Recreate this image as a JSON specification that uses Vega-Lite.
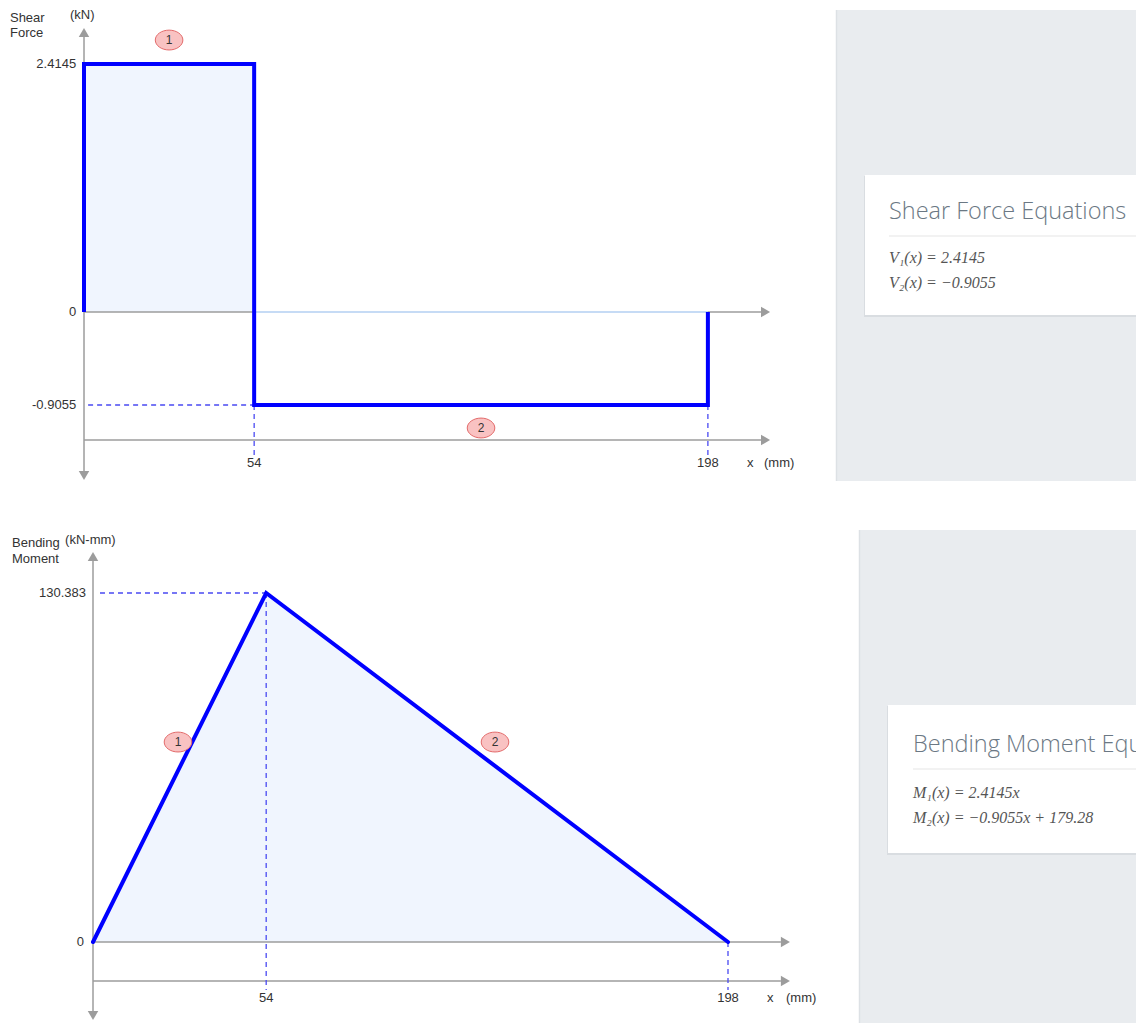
{
  "$schema": "https://vega.github.io/schema/vega-lite/v6.json",
  "padding": 0,
  "background": "white",
  "spacing": 47,
  "config": {"view": {"stroke": null}, "font": "Liberation Sans", "text": {"font": "Liberation Sans"}},
  "vconcat": [
    {
      "spacing": 15,
      "hconcat": [
        {
          "width": 820,
          "height": 481,
          "layer": [
            {
              "data": {"values": [{"x": 0, "v": 2.4145}, {"x": 54, "v": 2.4145}]},
              "mark": {"type": "area", "color": "#f0f5fe"},
              "encoding": {
                "x": {"field": "x", "type": "quantitative", "scale": {"domain": [-26.66, 233.58], "nice": false, "zero": false}, "axis": null},
                "y": {"field": "v", "type": "quantitative", "scale": {"domain": [-1.6456, 3.038], "nice": false, "zero": false}, "axis": null},
                "y2": {"datum": 0}
              }
            },
            {
              "data": {"values": [
                {"x": 0, "x2": 0, "v": 2.70, "v2": -1.57},
                {"x": 0, "x2": 215, "v": 0, "v2": 0},
                {"x": 0, "x2": 215, "v": -1.2463, "v2": -1.2463}
              ]},
              "mark": {"type": "rule", "color": "#9c9c9c", "strokeWidth": 1.5},
              "encoding": {
                "x": {"field": "x", "type": "quantitative"}, "x2": {"field": "x2"},
                "y": {"field": "v", "type": "quantitative"}, "y2": {"field": "v2"}
              }
            },
            {
              "data": {"values": [
                {"x": 0, "v": 2.7215, "dir": "up"},
                {"x": 0, "v": -1.592, "dir": "down"},
                {"x": 216.3, "v": 0, "dir": "right"},
                {"x": 216.3, "v": -1.2463, "dir": "right"}
              ]},
              "mark": {"type": "point", "filled": true, "color": "#9c9c9c", "opacity": 1, "size": 110},
              "encoding": {
                "x": {"field": "x", "type": "quantitative"},
                "y": {"field": "v", "type": "quantitative"},
                "shape": {"field": "dir", "type": "nominal", "scale": {"domain": ["up", "down", "right"], "range": ["triangle-up", "triangle-down", "triangle-right"]}, "legend": null}
              }
            },
            {
              "data": {"values": [{"x": 54, "x2": 198, "v": 0, "v2": 0}]},
              "mark": {"type": "rule", "color": "#c6dbf5", "strokeWidth": 2},
              "encoding": {
                "x": {"field": "x", "type": "quantitative"}, "x2": {"field": "x2"},
                "y": {"field": "v", "type": "quantitative"}, "y2": {"field": "v2"}
              }
            },
            {
              "data": {"values": [
                {"x": 1.3, "x2": 54, "v": -0.9055, "v2": -0.9055},
                {"x": 54, "x2": 54, "v": -0.9055, "v2": -1.392},
                {"x": 198, "x2": 198, "v": -0.9055, "v2": -1.392}
              ]},
              "mark": {"type": "rule", "color": "#4a4af2", "strokeWidth": 1.3, "strokeDash": [5, 4]},
              "encoding": {
                "x": {"field": "x", "type": "quantitative"}, "x2": {"field": "x2"},
                "y": {"field": "v", "type": "quantitative"}, "y2": {"field": "v2"}
              }
            },
            {
              "data": {"values": [
                {"i": 0, "x": 0, "v": 0},
                {"i": 1, "x": 0, "v": 2.4145},
                {"i": 2, "x": 54, "v": 2.4145},
                {"i": 3, "x": 54, "v": -0.9055},
                {"i": 4, "x": 198, "v": -0.9055},
                {"i": 5, "x": 198, "v": 0}
              ]},
              "mark": {"type": "line", "color": "#0000ff", "strokeWidth": 4, "strokeJoin": "miter", "strokeCap": "butt"},
              "encoding": {
                "x": {"field": "x", "type": "quantitative"},
                "y": {"field": "v", "type": "quantitative"},
                "order": {"field": "i", "type": "quantitative"}
              }
            },
            {
              "data": {"values": [
                {"x": -2.5, "v": 2.4145, "t": "2.4145"},
                {"x": -2.5, "v": 0, "t": "0"},
                {"x": -2.5, "v": -0.9055, "t": "-0.9055"}
              ]},
              "mark": {"type": "text", "align": "right", "baseline": "middle", "fontSize": 13, "color": "#333333"},
              "encoding": {
                "x": {"field": "x", "type": "quantitative"},
                "y": {"field": "v", "type": "quantitative"},
                "text": {"field": "t"}
              }
            },
            {
              "data": {"values": [
                {"x": 54, "v": -1.47, "t": "54"},
                {"x": 198, "v": -1.47, "t": "198"}
              ]},
              "mark": {"type": "text", "align": "center", "baseline": "middle", "fontSize": 13, "color": "#333333"},
              "encoding": {
                "x": {"field": "x", "type": "quantitative"},
                "y": {"field": "v", "type": "quantitative"},
                "text": {"field": "t"}
              }
            },
            {
              "data": {"values": [
                {"x": 210.4, "v": -1.47, "t": "x"},
                {"x": 215.8, "v": -1.47, "t": "(mm)"},
                {"x": -23.5, "v": 2.863, "t": "Shear"},
                {"x": -23.5, "v": 2.713, "t": "Force"},
                {"x": -4.44, "v": 2.892, "t": "(kN)"}
              ]},
              "mark": {"type": "text", "align": "left", "baseline": "middle", "fontSize": 13, "color": "#333333"},
              "encoding": {
                "x": {"field": "x", "type": "quantitative"},
                "y": {"field": "v", "type": "quantitative"},
                "text": {"field": "t"}
              }
            },
            {
              "data": {"values": [
                {"x": 27, "v": 2.648, "t": "1"},
                {"x": 126, "v": -1.1295, "t": "2"}
              ]},
              "layer": [
                {
                  "mark": {"type": "point", "filled": true, "shape": "M-1,0A1,0.72,0,1,0,1,0A1,0.72,0,1,0,-1,0Z", "size": 760, "fill": "#f9c2c2", "stroke": "#e36a6a", "strokeWidth": 1, "opacity": 1},
                  "encoding": {
                    "x": {"field": "x", "type": "quantitative"},
                    "y": {"field": "v", "type": "quantitative"}
                  }
                },
                {
                  "mark": {"type": "text", "align": "center", "baseline": "middle", "fontSize": 12, "color": "#333333"},
                  "encoding": {
                    "x": {"field": "x", "type": "quantitative"},
                    "y": {"field": "v", "type": "quantitative"},
                    "text": {"field": "t"}
                  }
                }
              ]
            }
          ]
        },
        {
          "width": 301,
          "height": 481,
          "layer": [
            {
              "data": {"values": [
                {"x": 0, "x2": 301, "y": 10, "y2": 481, "k": "panel"},
                {"x": 28, "x2": 301, "y": 176, "y2": 317, "k": "shadow"},
                {"x": 29, "x2": 301, "y": 175, "y2": 315, "k": "card"}
              ]},
              "mark": {"type": "rect"},
              "encoding": {
                "x": {"field": "x", "type": "quantitative", "scale": {"domain": [0, 301], "nice": false, "zero": false}, "axis": null},
                "x2": {"field": "x2"},
                "y": {"field": "y", "type": "quantitative", "scale": {"domain": [0, 481], "nice": false, "zero": false, "reverse": true}, "axis": null},
                "y2": {"field": "y2"},
                "color": {"field": "k", "type": "nominal", "scale": {"domain": ["panel", "shadow", "card"], "range": ["#e9ecef", "#d9dde1", "#ffffff"]}, "legend": null}
              }
            },
            {
              "data": {"values": [
                {"x": 0.5, "x2": 0.5, "y": 10, "y2": 481, "k": "edge"},
                {"x": 53, "x2": 301, "y": 236, "y2": 236, "k": "sep"}
              ]},
              "mark": {"type": "rule", "strokeWidth": 1.5},
              "encoding": {
                "x": {"field": "x", "type": "quantitative"}, "x2": {"field": "x2"},
                "y": {"field": "y", "type": "quantitative"}, "y2": {"field": "y2"},
                "stroke": {"field": "k", "type": "nominal", "scale": {"domain": ["edge", "sep"], "range": ["#dde1e5", "#eeeeee"]}, "legend": null}
              }
            },
            {
              "data": {"values": [{"x": 53, "y": 212, "t": "Shear Force Equations"}]},
              "mark": {"type": "text", "align": "left", "baseline": "middle", "font": "Open Sans", "fontWeight": 300, "fontSize": 23.5, "color": "#6b7884", "clip": true},
              "encoding": {
                "x": {"field": "x", "type": "quantitative"},
                "y": {"field": "y", "type": "quantitative"},
                "text": {"field": "t"}
              }
            },
            {
              "data": {"values": [
                {"x": 53, "y": 258, "t": "V₁(x) = 2.4145"},
                {"x": 53, "y": 283, "t": "V₂(x) = −0.9055"}
              ]},
              "mark": {"type": "text", "align": "left", "baseline": "middle", "font": "Liberation Serif", "fontStyle": "italic", "fontSize": 16, "color": "#555555"},
              "encoding": {
                "x": {"field": "x", "type": "quantitative"},
                "y": {"field": "y", "type": "quantitative"},
                "text": {"field": "t"}
              }
            }
          ]
        }
      ]
    },
    {
      "spacing": 15,
      "hconcat": [
        {
          "width": 843,
          "height": 493,
          "layer": [
            {
              "data": {"values": [{"x": 0, "m": 0}, {"x": 54, "m": 130.383}, {"x": 198, "m": 0}]},
              "mark": {"type": "area", "color": "#f0f5fe"},
              "encoding": {
                "x": {"field": "x", "type": "quantitative", "scale": {"domain": [-29.0, 233.86], "nice": false, "zero": false}, "axis": null},
                "y": {"field": "m", "type": "quantitative", "scale": {"domain": [-30.26, 153.92], "nice": false, "zero": false}, "axis": null},
                "y2": {"datum": 0}
              }
            },
            {
              "data": {"values": [
                {"x": 0, "x2": 0, "m": 142.5, "m2": -26.0},
                {"x": 0, "x2": 214.5, "m": 0, "m2": 0},
                {"x": 0, "x2": 214.5, "m": -14.57, "m2": -14.57}
              ]},
              "mark": {"type": "rule", "color": "#9c9c9c", "strokeWidth": 1.5},
              "encoding": {
                "x": {"field": "x", "type": "quantitative"}, "x2": {"field": "x2"},
                "y": {"field": "m", "type": "quantitative"}, "y2": {"field": "m2"}
              }
            },
            {
              "data": {"values": [
                {"x": 0, "m": 144.02, "dir": "up"},
                {"x": 0, "m": -27.46, "dir": "down"},
                {"x": 215.9, "m": 0, "dir": "right"},
                {"x": 215.9, "m": -14.57, "dir": "right"}
              ]},
              "mark": {"type": "point", "filled": true, "color": "#9c9c9c", "opacity": 1, "size": 110},
              "encoding": {
                "x": {"field": "x", "type": "quantitative"},
                "y": {"field": "m", "type": "quantitative"},
                "shape": {"field": "dir", "type": "nominal", "scale": {"domain": ["up", "down", "right"], "range": ["triangle-up", "triangle-down", "triangle-right"]}, "legend": null}
              }
            },
            {
              "data": {"values": [
                {"x": 2.18, "x2": 54, "m": 130.383, "m2": 130.383},
                {"x": 54, "x2": 54, "m": 130.383, "m2": -17.93},
                {"x": 198, "x2": 198, "m": 0, "m2": -17.93}
              ]},
              "mark": {"type": "rule", "color": "#4a4af2", "strokeWidth": 1.3, "strokeDash": [5, 4]},
              "encoding": {
                "x": {"field": "x", "type": "quantitative"}, "x2": {"field": "x2"},
                "y": {"field": "m", "type": "quantitative"}, "y2": {"field": "m2"}
              }
            },
            {
              "data": {"values": [
                {"i": 0, "x": 0, "m": 0},
                {"i": 1, "x": 54, "m": 130.383},
                {"i": 2, "x": 198, "m": 0}
              ]},
              "mark": {"type": "line", "color": "#0000ff", "strokeWidth": 4, "strokeJoin": "miter", "strokeCap": "round"},
              "encoding": {
                "x": {"field": "x", "type": "quantitative"},
                "y": {"field": "m", "type": "quantitative"},
                "order": {"field": "i", "type": "quantitative"}
              }
            },
            {
              "data": {"values": [
                {"x": -2.18, "m": 130.383, "t": "130.383"},
                {"x": -2.8, "m": 0, "t": "0"}
              ]},
              "mark": {"type": "text", "align": "right", "baseline": "middle", "fontSize": 13, "color": "#333333"},
              "encoding": {
                "x": {"field": "x", "type": "quantitative"},
                "y": {"field": "m", "type": "quantitative"},
                "text": {"field": "t"}
              }
            },
            {
              "data": {"values": [
                {"x": 54, "m": -20.92, "t": "54"},
                {"x": 198, "m": -20.92, "t": "198"}
              ]},
              "mark": {"type": "text", "align": "center", "baseline": "middle", "fontSize": 13, "color": "#333333"},
              "encoding": {
                "x": {"field": "x", "type": "quantitative"},
                "y": {"field": "m", "type": "quantitative"},
                "text": {"field": "t"}
              }
            },
            {
              "data": {"values": [
                {"x": 210.2, "m": -20.92, "t": "x"},
                {"x": 216.1, "m": -20.92, "t": "(mm)"},
                {"x": -25.26, "m": 149.06, "t": "Bending"},
                {"x": -25.26, "m": 143.09, "t": "Moment"},
                {"x": -8.7, "m": 150.18, "t": "(kN-mm)"}
              ]},
              "mark": {"type": "text", "align": "left", "baseline": "middle", "fontSize": 13, "color": "#333333"},
              "encoding": {
                "x": {"field": "x", "type": "quantitative"},
                "y": {"field": "m", "type": "quantitative"},
                "text": {"field": "t"}
              }
            },
            {
              "data": {"values": [
                {"x": 26.5, "m": 74.7, "t": "1"},
                {"x": 125.35, "m": 74.7, "t": "2"}
              ]},
              "layer": [
                {
                  "mark": {"type": "point", "filled": true, "shape": "M-1,0A1,0.72,0,1,0,1,0A1,0.72,0,1,0,-1,0Z", "size": 760, "fill": "#f9c2c2", "stroke": "#e36a6a", "strokeWidth": 1, "opacity": 1},
                  "encoding": {
                    "x": {"field": "x", "type": "quantitative"},
                    "y": {"field": "m", "type": "quantitative"}
                  }
                },
                {
                  "mark": {"type": "text", "align": "center", "baseline": "middle", "fontSize": 12, "color": "#333333"},
                  "encoding": {
                    "x": {"field": "x", "type": "quantitative"},
                    "y": {"field": "m", "type": "quantitative"},
                    "text": {"field": "t"}
                  }
                }
              ]
            }
          ]
        },
        {
          "width": 278,
          "height": 493,
          "layer": [
            {
              "data": {"values": [
                {"x": 0, "x2": 278, "y": 0, "y2": 493, "k": "panel"},
                {"x": 28, "x2": 278, "y": 176, "y2": 325, "k": "shadow"},
                {"x": 29, "x2": 278, "y": 175, "y2": 323, "k": "card"}
              ]},
              "mark": {"type": "rect"},
              "encoding": {
                "x": {"field": "x", "type": "quantitative", "scale": {"domain": [0, 278], "nice": false, "zero": false}, "axis": null},
                "x2": {"field": "x2"},
                "y": {"field": "y", "type": "quantitative", "scale": {"domain": [0, 493], "nice": false, "zero": false, "reverse": true}, "axis": null},
                "y2": {"field": "y2"},
                "color": {"field": "k", "type": "nominal", "scale": {"domain": ["panel", "shadow", "card"], "range": ["#e9ecef", "#d9dde1", "#ffffff"]}, "legend": null}
              }
            },
            {
              "data": {"values": [
                {"x": 0.5, "x2": 0.5, "y": 0, "y2": 493, "k": "edge"},
                {"x": 54, "x2": 278, "y": 239, "y2": 239, "k": "sep"}
              ]},
              "mark": {"type": "rule", "strokeWidth": 1.5},
              "encoding": {
                "x": {"field": "x", "type": "quantitative"}, "x2": {"field": "x2"},
                "y": {"field": "y", "type": "quantitative"}, "y2": {"field": "y2"},
                "stroke": {"field": "k", "type": "nominal", "scale": {"domain": ["edge", "sep"], "range": ["#dde1e5", "#eeeeee"]}, "legend": null}
              }
            },
            {
              "data": {"values": [{"x": 54, "y": 215, "t": "Bending Moment Equations"}]},
              "mark": {"type": "text", "align": "left", "baseline": "middle", "font": "Open Sans", "fontWeight": 300, "fontSize": 23.5, "color": "#6b7884", "clip": true},
              "encoding": {
                "x": {"field": "x", "type": "quantitative"},
                "y": {"field": "y", "type": "quantitative"},
                "text": {"field": "t"}
              }
            },
            {
              "data": {"values": [
                {"x": 54, "y": 263, "t": "M₁(x) = 2.4145x"},
                {"x": 54, "y": 288, "t": "M₂(x) = −0.9055x + 179.28"}
              ]},
              "mark": {"type": "text", "align": "left", "baseline": "middle", "font": "Liberation Serif", "fontStyle": "italic", "fontSize": 16, "color": "#555555"},
              "encoding": {
                "x": {"field": "x", "type": "quantitative"},
                "y": {"field": "y", "type": "quantitative"},
                "text": {"field": "t"}
              }
            }
          ]
        }
      ]
    }
  ]
}
